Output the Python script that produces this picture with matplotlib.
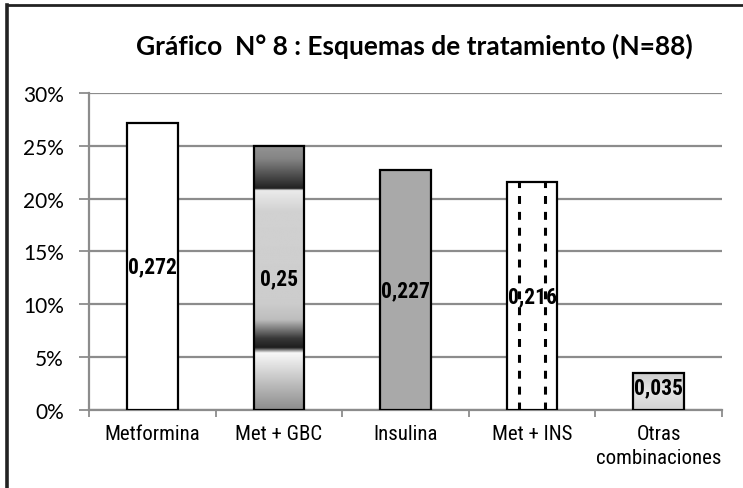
"""
Gráfico N° 8: Esquemas de tratamiento (N=88) - bar chart with textured fills.
"""

import matplotlib
matplotlib.use("Agg")
import matplotlib.pyplot as plt
from matplotlib.lines import Line2D
from matplotlib.ticker import FixedLocator, FuncFormatter
import numpy as np

categories = ["Metformina", "Met + GBC", "Insulina", "Met + INS", "Otras\ncombinaciones"]
proportions = [0.272, 0.25, 0.227, 0.216, 0.035]
value_labels = ["0,272", "0,25", "0,227", "0,216", "0,035"]
y_ticks = [0.0, 0.05, 0.10, 0.15, 0.20, 0.25, 0.30]

GRID = "#8c8c8c"
# condensed family if present, otherwise the Arial-metric Liberation Sans
NARROW = ["Liberation Sans Narrow", "Roboto Condensed", "Liberation Sans", "DejaVu Sans"]

plt.rcParams.update({
    "figure.facecolor": "white",
    "axes.facecolor": "white",
})

# gray stops (fraction from top of bar -> gray level) for the banded bar
BAND_STOPS = [0.0, 0.05, 0.15, 0.163, 0.17, 0.25, 0.6, 0.66, 0.73, 0.765, 0.785, 1.0]
BAND_GRAYS = [0.58, 0.52, 0.18, 0.13, 0.92, 0.82, 0.80, 0.74, 0.22, 0.12, 0.97, 0.55]


def fill_gradient(ax, bar, stops, grays):
    x0, y0 = bar.get_x(), bar.get_y()
    w, h = bar.get_width(), bar.get_height()
    t = np.linspace(0, 1, 400)
    col = np.interp(t, stops, grays)[:, None]
    img = ax.imshow(col, cmap="gray", vmin=0, vmax=1, aspect="auto",
                    extent=(x0, x0 + w, y0, y0 + h), origin="upper",
                    interpolation="bilinear", zorder=bar.get_zorder() - 0.1)
    img.set_clip_path(bar)


def main():
    fig = plt.figure(figsize=(7.43, 4.89), dpi=100)
    ax = fig.add_axes([0.1198, 0.1595, 0.8519, 0.6483])

    x = np.arange(len(categories))
    bars = ax.bar(x, proportions, width=0.4, facecolor="white",
                  edgecolor="black", linewidth=1.6, zorder=3)

    # Met + GBC: banded metallic gradient
    bars[1].set_facecolor("none")
    fill_gradient(ax, bars[1], BAND_STOPS, BAND_GRAYS)
    # Insulina: flat gray
    bars[2].set_facecolor("#a9a9a9")
    # Met + INS: dashed vertical lines
    b = bars[3]
    for frac in (0.25, 0.75):
        xl = b.get_x() + frac * b.get_width()
        ax.plot([xl, xl], [0, b.get_height()], color="black", lw=2.2,
                dashes=(2.6, 2.6), zorder=3.5, solid_capstyle="butt")
    # Otras: light textured gray
    bars[4].set_facecolor("none")
    fill_gradient(ax, bars[4], [0.0, 0.5, 1.0], [0.80, 0.90, 0.82])

    for xi, v, lab in zip(x, proportions, value_labels):
        ax.text(xi, v / 2 + (0.004 if v < 0.05 else 0), lab, ha="center",
                va="center", fontsize=15.5, fontweight="bold", family=NARROW,
                zorder=5)

    ax.set_xlim(-0.5, len(categories) - 0.5)
    ax.set_ylim(0, 0.30)

    ax.yaxis.set_major_locator(FixedLocator(y_ticks))
    ax.yaxis.set_major_formatter(FuncFormatter(lambda v, _: f"{v * 100:.0f}%"))
    ax.grid(True, axis="y", color=GRID, linewidth=1.6, zorder=0)
    ax.set_axisbelow(True)

    ax.xaxis.set_major_locator(FixedLocator(np.arange(len(categories) + 1) - 0.5))
    ax.xaxis.set_major_formatter(FuncFormatter(lambda v, _: ""))
    ax.xaxis.set_minor_locator(FixedLocator(x))
    ax.set_xticklabels(categories, minor=True, family=NARROW, fontsize=15,
                       linespacing=1.35)
    ax.tick_params(axis="x", which="major", length=5, color=GRID, width=1.3)
    ax.tick_params(axis="x", which="minor", length=0, pad=10)
    ax.tick_params(axis="y", length=7, color=GRID, width=1.3, pad=11)
    for lbl in ax.get_yticklabels():
        lbl.set_family(["Lato", "DejaVu Sans"])
        lbl.set_fontsize(15)

    for side in ("top", "right"):
        ax.spines[side].set_visible(False)
    for side in ("left", "bottom"):
        ax.spines[side].set_color(GRID)
        ax.spines[side].set_linewidth(1.6)

    fig.text(0.558, 0.906, "Gráfico  N° 8 : Esquemas de tratamiento (N=88)",
             ha="center", va="center", fontsize=19, fontweight="bold",
             family=["Lato", "DejaVu Sans"])

    # outer frame (left and top edges)
    fig.add_artist(Line2D([0.0095, 0.0095], [0, 0.988], color="#222222",
                          lw=2.6, transform=fig.transFigure))
    fig.add_artist(Line2D([0.0095, 1.0], [0.988, 0.988], color="#222222",
                          lw=2.0, transform=fig.transFigure))

    fig.savefig("out.png", dpi=100)
    plt.close(fig)


if __name__ == "__main__":
    main()
